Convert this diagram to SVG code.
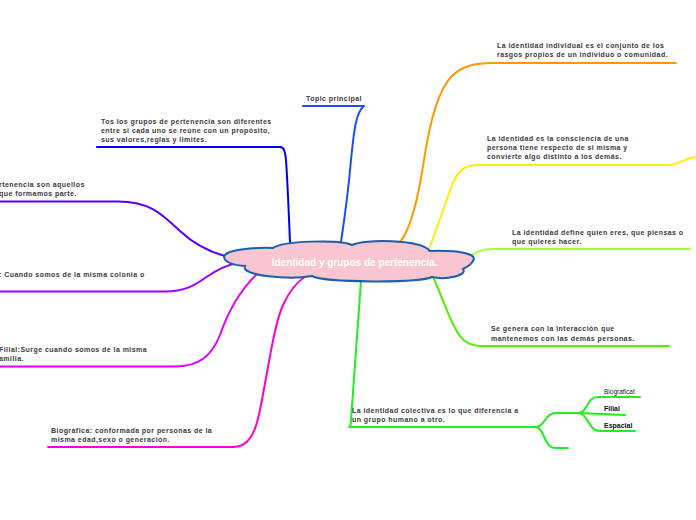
<svg xmlns="http://www.w3.org/2000/svg" width="696" height="520" viewBox="0 0 696 520">
<style>
.t{font-family:"Liberation Sans",Arial,sans-serif;font-size:7px;font-weight:bold;fill:#3a3a3a;letter-spacing:0.45px}
.s{font-family:"Liberation Sans",Arial,sans-serif;font-size:7px;font-weight:bold;fill:#111}
.c{fill:none;stroke-width:2;stroke-linecap:round;stroke-linejoin:round}
</style>
<rect width="696" height="520" fill="#fff"/>
<g id="connectors">
<path class="c" stroke="#1a4ff5" d="M303,106 H364 C356,112 354,130 351,160 C348,195 344,222 341,242"/>
<path class="c" stroke="#0000ee" d="M97,147 H280 C284,147 285,151 286,160 C288,190 289,220 290,242"/>
<path class="c" stroke="#5500ff" d="M-2,201.5 H118 C150,201.5 162,214 180,231 C195,245 210,252 225,256"/>
<path class="c" stroke="#9a00ff" d="M-2,291.5 H165 C185,291.5 195,285 205,278 C215,271 225,265 238,263"/>
<path class="c" stroke="#e000ff" d="M-2,366.5 H175 C200,366.5 212,355 220,335 C228,312 240,290 258,273"/>
<path class="c" stroke="#ff00cc" d="M48,447 H233 C248,447 255,435 260,410 C268,370 274,325 283,305 C290,290 298,281 306,276"/>
<path class="c" stroke="#22ee22" d="M361,281 L351,420 C351,425 350,427 349,427 H535 C545,427 545,413 556,413 H578"/>
<path class="c" stroke="#22ee22" d="M535,427 C545,427 543,448 556,448 H568"/>
<path class="c" stroke="#22ee22" d="M578,413 C588,413 586,397 598,397 H640"/>
<path class="c" stroke="#22ee22" d="M578,413 L625,415"/>
<path class="c" stroke="#22ee22" d="M578,413 C588,413 588,431 600,431 H635"/>
<path class="c" stroke="#55ee00" d="M434,279 C442,297 448,315 455,328 C462,342 470,346 483,346 H669"/>
<path class="c" stroke="#aaff22" d="M472,255 C480,250 485,249 495,249 H690"/>
<path class="c" stroke="#ffee00" d="M430,247 C438,225 445,205 452,185 C458,170 465,165 478,165 H668 C680,165 685,157 698,157"/>
<path class="c" stroke="#ff9900" d="M400,242 C410,230 418,200 424,160 C430,120 438,90 452,76 C462,66 475,63 493,63 H676"/>
</g>
<g id="central">
<path d="M273,248 C282,241 340,239 352,245 C364,239 420,239 430,251 C460,250 478,254 473,261 C470,266 465,268 463,269 C468,276 445,280 432,277 C420,283 325,283 312,276 C290,280 240,276 245,266 C225,265 218,256 230,252 C238,249 260,247 273,248 Z" fill="#f8c5d0" stroke="#1a5fa8" stroke-width="2"/>
<text x="354.5" y="266" text-anchor="middle" font-family="Liberation Sans,Arial,sans-serif" font-size="10" font-weight="bold" fill="#fff">Identidad y grupos de pertenencia.</text>
</g>
<g id="topic-principal"><text class="t" x="306" y="101">Topic principal</text></g>
<g id="node-diferentes">
<text class="t" x="101" y="124">Tos los grupos de pertenencia son diferentes</text>
<text class="t" x="101" y="133">entre si cada uno se reúne con un propósito,</text>
<text class="t" x="101" y="142">sus valores,reglas y limites.</text>
</g>
<g id="node-aquellos">
<text class="t" x="-1" y="187">rtenencia son aquellos</text>
<text class="t" x="-1" y="196">que formamos parte.</text>
</g>
<g id="node-colonia"><text class="t" x="-1" y="277">: Cuando somos de la misma colonia o</text></g>
<g id="node-filial">
<text class="t" x="-1" y="352">Filial:Surge cuando somos de la misma</text>
<text class="t" x="-1" y="361">amilia.</text>
</g>
<g id="node-biografica">
<text class="t" x="51" y="433">Biográfica: conformada por personas de la</text>
<text class="t" x="51" y="442">misma edad,sexo o generación.</text>
</g>
<g id="node-colectiva">
<text class="t" x="352" y="413">La identidad colectiva es lo que diferencia a</text>
<text class="t" x="352" y="422">un grupo humano a otro.</text>
</g>
<g id="node-biograficat"><text x="604" y="394" font-family="Liberation Sans,Arial,sans-serif" font-size="6.5" fill="#222">Biográficat</text></g>
<g id="node-filial2"><text class="s" x="604" y="411">Filial</text></g>
<g id="node-espacial"><text class="s" x="604" y="428">Espacial</text></g>
<g id="node-interaccion">
<text class="t" x="491" y="331">Se genera con la interacción que</text>
<text class="t" x="491" y="341">mantenemos con las demás personas.</text>
</g>
<g id="node-define">
<text class="t" x="512" y="235">La identidad define quien eres, que piensas o</text>
<text class="t" x="512" y="244">que quieres hacer.</text>
</g>
<g id="node-consciencia">
<text class="t" x="487" y="141">La identidad es la consciencia de una</text>
<text class="t" x="487" y="150">persona tiene respecto de si misma y</text>
<text class="t" x="487" y="159">convierte algo distinto a los demás.</text>
</g>
<g id="node-individual">
<text class="t" x="497" y="48">La identidad individual es el conjunto de los</text>
<text class="t" x="497" y="57">rasgos propios de un individuo o comunidad.</text>
</g>
</svg>
